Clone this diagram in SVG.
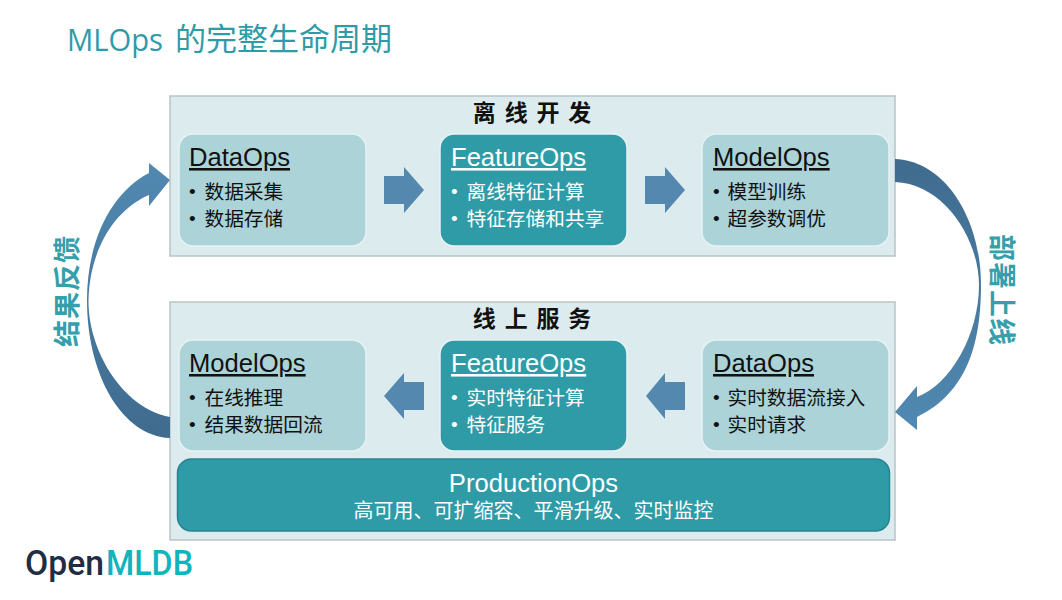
<svg xmlns="http://www.w3.org/2000/svg" width="1062" height="600" viewBox="0 0 1062 600">
<style>
text{font-family:"Liberation Sans","Noto Sans CJK SC",sans-serif;fill:#111}
.panel{fill:#dcebee;stroke:#b9c3c7;stroke-width:1.5}
.light{fill:#abd3d8;stroke:#e6f2f3;stroke-width:1.5}
.dark{fill:#2f9ba7;stroke:#e6f2f3;stroke-width:1.5}
.h{font-size:25.6px;text-decoration:underline}
.b{font-size:19.7px;font-family:"Noto Sans CJK SC",sans-serif}
.d{font-size:19px;font-family:"Liberation Sans",sans-serif}
.w{fill:#fff}
.head{font-size:23px;font-weight:700;font-family:"Noto Sans CJK SC",sans-serif;text-anchor:middle;letter-spacing:1.8px}
.side{font-size:27px;font-weight:700;font-family:"Noto Sans CJK SC",sans-serif;fill:#35a0ab;text-anchor:middle;letter-spacing:1px}
.block{fill:#5488ae}
</style>
<defs>
<linearGradient id="gl" x1="0" y1="0" x2="0" y2="1"><stop offset="0" stop-color="#5189b2"/><stop offset="1" stop-color="#3f6b8e"/></linearGradient>
<linearGradient id="gr" x1="0" y1="0" x2="0" y2="1"><stop offset="0" stop-color="#3f6b8e"/><stop offset="1" stop-color="#5189b2"/></linearGradient>
</defs>
<g id="title"><text x="67" y="51" style="font-family:'Open Sans',sans-serif;font-weight:400;font-size:31px;fill:#2f9ba7" textLength="96" lengthAdjust="spacingAndGlyphs">MLOps</text><text x="175" y="50" style="font-family:'Noto Sans CJK SC',sans-serif;font-weight:400;font-size:31px;fill:#2f9ba7">的完整生命周期</text></g>
<g id="panel-offline"><rect class="panel" x="170" y="96" width="725" height="160"/><text class="head" x="533" y="121" xml:space="preserve">离 线 开 发</text></g>
<g id="panel-online"><rect class="panel" x="170" y="302" width="725" height="238"/><text class="head" x="533" y="327" xml:space="preserve">线 上 服 务</text></g>
<g id="connectors">
<path d="M170 438C122 436 87 375 87 300C87 240 112 192 149 173V163L170 180L149 206V195C118 208 90 245 88.500 300C88 350 122 408 170 417Z" fill="url(#gl)"/>
<path d="M895 159C945 161 981 218 981 285C981 340 969 392 917 417V430L895 412L917 386V397C950 385 979 335 979 285C979 240 945 184 895 182Z" fill="url(#gr)"/>
<path class="block" d="M384 176H404V167L424 190L404 213V204H384Z"/>
<path class="block" d="M645 176H665V167L685 190L665 213V204H645Z"/>
<path class="block" d="M424 382H404V373L384 396L404 419V410H424Z"/>
<path class="block" d="M685 382H665V373L646 396L665 419V410H685Z"/>
</g>
<g id="label-feedback"><text class="side" transform="translate(77 291) rotate(-90)">结果反馈</text></g>
<g id="label-deploy"><text class="side" transform="translate(992 290) rotate(90)">部署上线</text></g>
<g id="dataops-offline"><rect class="light" x="179" y="134" width="187" height="112" rx="14"/><text class="h" x="189" y="166">DataOps</text><text class="d" x="189" y="198">•</text><text class="b" x="204.500" y="199">数据采集</text><text class="d" x="189" y="225">•</text><text class="b" x="204.500" y="226">数据存储</text></g>
<g id="featureops-offline"><rect class="dark" x="440" y="134" width="187" height="112" rx="14"/><text class="h w" x="451" y="166">FeatureOps</text><text class="d w" x="451" y="198">•</text><text class="b w" x="466.500" y="199">离线特征计算</text><text class="d w" x="451" y="225">•</text><text class="b w" x="466.500" y="226">特征存储和共享</text></g>
<g id="modelops-offline"><rect class="light" x="702" y="134" width="187" height="112" rx="14"/><text class="h" x="713" y="166">ModelOps</text><text class="d" x="713" y="198">•</text><text class="b" x="727.500" y="199">模型训练</text><text class="d" x="713" y="225">•</text><text class="b" x="727.500" y="226">超参数调优</text></g>
<g id="modelops-online"><rect class="light" x="179" y="340" width="187" height="111" rx="14"/><text class="h" x="189" y="372">ModelOps</text><text class="d" x="189" y="404">•</text><text class="b" x="204.500" y="405">在线推理</text><text class="d" x="189" y="431">•</text><text class="b" x="204.500" y="432">结果数据回流</text></g>
<g id="featureops-online"><rect class="dark" x="440" y="340" width="187" height="111" rx="14"/><text class="h w" x="451" y="372">FeatureOps</text><text class="d w" x="451" y="404">•</text><text class="b w" x="466.500" y="405">实时特征计算</text><text class="d w" x="451" y="431">•</text><text class="b w" x="466.500" y="432">特征服务</text></g>
<g id="dataops-online"><rect class="light" x="702" y="340" width="187" height="111" rx="14"/><text class="h" x="713" y="372">DataOps</text><text class="d" x="713" y="404">•</text><text class="b" x="727.500" y="405">实时数据流接入</text><text class="d" x="713" y="431">•</text><text class="b" x="727.500" y="432">实时请求</text></g>
<g id="productionops"><rect x="177.500" y="459" width="712" height="72" rx="14" fill="#2f9ba7" stroke="#2b8290" stroke-width="1.500"/><text class="w" x="533.500" y="492" text-anchor="middle" style="font-size:25.600px">ProductionOps</text><text class="w" x="533.500" y="518" text-anchor="middle" style="font-size:20px;font-family:'Noto Sans CJK SC',sans-serif">高可用、可扩缩容、平滑升级、实时监控</text></g>
<g id="logo"><text x="25" y="575" style="font-family:Roboto,sans-serif;font-size:35px;font-weight:500;fill:#222d42" textLength="79" lengthAdjust="spacingAndGlyphs">Open</text><text x="106" y="575" style="font-family:Roboto,sans-serif;font-size:35px;font-weight:500;fill:#0fb5bd" textLength="87" lengthAdjust="spacingAndGlyphs">MLDB</text></g>
</svg>
